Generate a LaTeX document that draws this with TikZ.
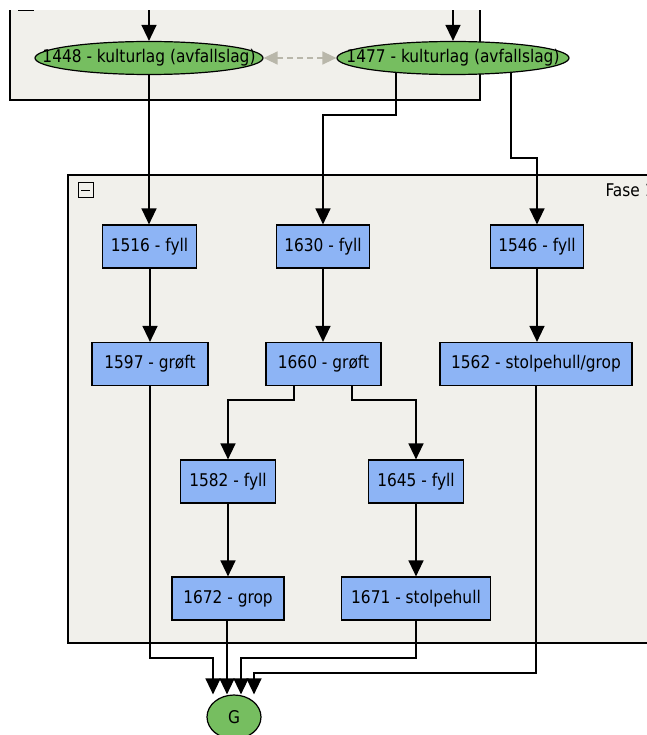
\documentclass[tikz,border=0pt]{standalone}
\usepackage{fontspec}
\setmainfont{DejaVu Sans}[FakeStretch=0.88]
\usetikzlibrary{shapes.geometric,arrows.meta,calc}
\definecolor{boxblue}{RGB}{141,180,245}
\definecolor{nodegreen}{RGB}{118,190,96}
\definecolor{framebg}{RGB}{241,240,235}
\definecolor{dashgray}{RGB}{185,183,170}
\pgfdeclarelayer{bg}
\pgfdeclarelayer{edges}
\pgfdeclarelayer{top}
\pgfsetlayers{bg,edges,main,top}
\tikzset{
  lbl/.style={font=\fontsize{17.5}{20}\selectfont},
  ctx/.style={draw=black, line width=1.2pt, fill=boxblue, minimum height=43pt, inner sep=0pt, lbl},
  ell/.style={ellipse, draw=black, line width=1.2pt, fill=nodegreen, inner sep=0pt},
  arr/.style={line width=1.4pt, -{Triangle[width=15pt,length=16pt]}},
  frame/.style={draw=black, line width=1.5pt, fill=framebg},
  dasharr/.style={dashgray, line width=1.4pt, dash pattern=on 6pt off 4pt, {Triangle[width=13pt,length=14pt]}-{Triangle[width=13pt,length=14pt]}}
}
\begin{document}
\begin{tikzpicture}[x=1pt,y=-1pt]
\useasboundingbox (0,0) rectangle (646,735);
% frames
\begin{pgfonlayer}{bg}
\fill[white] (0,0) rectangle (646,740);
\draw[frame] (10,-20) rectangle (480,100);
\draw[line width=1pt] (18,-4) rectangle (33,11);
\draw[frame] (68,175) rectangle (680,643);
\end{pgfonlayer}
\node[draw=black, line width=1pt, minimum size=15pt, inner sep=0pt] (minus) at (85.5,190.5) {};
\draw[line width=1pt] ([xshift=-4.5pt]minus.center) -- ([xshift=4.5pt]minus.center);
\node[anchor=west, lbl] (fase) at (602,190) {Fase 1};
% nodes
\node[ell, minimum width=228pt, minimum height=33pt, label={[lbl]center:1448 - kulturlag (avfallslag)}] (e1448) at (149,58) {};
\node[ell, minimum width=232pt, minimum height=33pt, label={[lbl]center:1477 - kulturlag (avfallslag)}] (e1477) at (453,58) {};
\node[ctx, minimum width=94pt] (b1516) at (149.5,246.5) {1516 - fyll};
\node[ctx, minimum width=93pt] (b1630) at (323,246.5) {1630 - fyll};
\node[ctx, minimum width=93pt] (b1546) at (537,246.5) {1546 - fyll};
\node[ctx, minimum width=116pt] (b1597) at (150,364) {1597 - grøft};
\node[ctx, minimum width=115pt] (b1660) at (323.5,364) {1660 - grøft};
\node[ctx, minimum width=192pt] (b1562) at (536,364) {1562 - stolpehull/grop};
\node[ctx, minimum width=95pt] (b1582) at (228,481.5) {1582 - fyll};
\node[ctx, minimum width=95pt] (b1645) at (416,481.5) {1645 - fyll};
\node[ctx, minimum width=112pt] (b1672) at (228,598.5) {1672 - grop};
\node[ctx, minimum width=149pt] (b1671) at (416,598.5) {1671 - stolpehull};
\node[ell, minimum width=54pt, minimum height=44pt, label={[lbl]center:G}] (G) at (234,717) {};
% helper coordinates
\coordinate (t1) at (149,0);
\coordinate (t2) at (453,0);
\coordinate (k1) at (396,115);
\coordinate (k2) at (511,158);
\coordinate (k3) at (294,400);
\coordinate (k4) at (352,400);
\coordinate (g1) at (213,658);
\coordinate (g2) at (227,658);
\coordinate (g3) at (241,658);
\coordinate (g4) at (254,673);
% edges
\begin{pgfonlayer}{edges}
\draw[arr] (t1) -- (e1448.north);
\draw[arr] (t2) -- (e1477.north);
\draw[dasharr] (e1448.east) -- (e1477.west);
\draw[arr] (e1448.south) -- (b1516.north -| e1448.south);
\draw[arr] (e1477.center -| k1) -- (k1) -| (b1630.north);
\draw[arr] (e1477.center -| k2) -- (k2) -| (b1546.north);
\draw[arr] (b1516.south -| b1597.north) -- (b1597.north);
\draw[arr] (b1630.south) -- (b1660.north -| b1630.south);
\draw[arr] (b1546.south) -- (b1562.north -| b1546.south);
\draw[arr] (b1660.south -| k3) -- (k3) -| (b1582.north);
\draw[arr] (b1660.south -| k4) -- (k4) -| (b1645.north);
\draw[arr] (b1582) -- (b1672);
\draw[arr] (b1645) -- (b1671);
\draw[arr] (b1597.south) |- (g1) -- (g1 |- G.north);
\draw[arr] (b1672.south -| g2) -- (g2 |- G.north);
\draw[arr] (b1671.south) |- (g3) -- (g3 |- G.north);
\draw[arr] (b1562.south) |- (g4) -- (g4 |- G.north);
\end{pgfonlayer}
\begin{pgfonlayer}{top}
\fill[white] (-1,-1) rectangle (647,10);
\end{pgfonlayer}
\end{tikzpicture}
\end{document}
